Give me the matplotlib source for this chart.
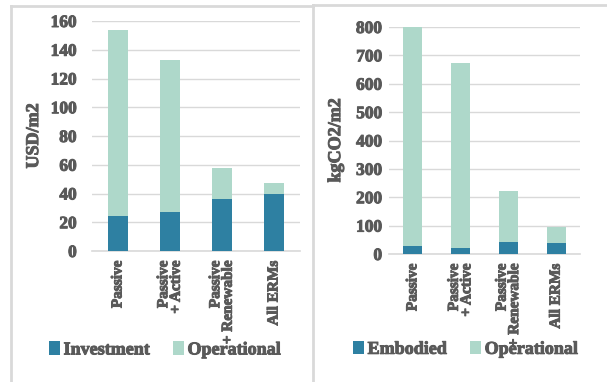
import matplotlib
matplotlib.use("Agg")
import matplotlib.pyplot as plt
import matplotlib.patheffects as pe
from matplotlib.lines import Line2D
import numpy as np

# categories (x labels)
categories = ["Passive", "Passive\n+ Active", "Passive\n+ Renewable", "All ERMs"]

# left chart: cost (USD/m2)
investment = [24.5, 27, 36.5, 39.5]
operational_cost = [129.5, 106, 21, 7.5]

# right chart: carbon (kgCO2/m2)
embodied = [27, 20, 42, 38]
operational_co2 = [773, 652, 180, 57]

dark = "#2E80A2"
light = "#AED8CA"
txt = "#595959"
grid = "#D9D9D9"

plt.rcParams["font.family"] = "Liberation Serif"
plt.rcParams["font.weight"] = "bold"

fig = plt.figure(figsize=(6.07, 3.82), dpi=100)

# panel borders
for xs, ys in [([11 / 607, 11 / 607], [0, 1 - 6 / 382]),
               ([11 / 607, 313 / 607], [1 - 6 / 382, 1 - 6 / 382]),
               ([313 / 607, 313 / 607], [0, 1 - 5 / 382]),
               ([313 / 607, 1], [1 - 5 / 382, 1 - 5 / 382])]:
    fig.add_artist(Line2D(xs, ys, color="#D9D9D9", lw=2))

heavy = [pe.withStroke(linewidth=0.7, foreground=txt)]


def panel(rect, bottom_vals, top_vals, ymax, ystep, ylabel, names, ypad,
          label_x, leg_x, leg_y):
    ax = fig.add_axes(rect)
    x = np.arange(len(categories))
    ax.bar(x, bottom_vals, width=0.4, color=dark, label=names[0], zorder=3)
    ax.bar(x, top_vals, width=0.4, bottom=bottom_vals, color=light,
           label=names[1], zorder=3)
    ax.set_xlim(-0.5, 3.5)
    ax.set_ylim(0, ymax)
    ax.set_yticks(np.arange(0, ymax + 1, ystep))
    ax.yaxis.grid(True, color=grid, lw=1, zorder=0)
    for s in ["top", "right", "left"]:
        ax.spines[s].set_visible(False)
    ax.spines["bottom"].set_color(grid)
    ax.spines["bottom"].set_linewidth(1.2)
    ax.tick_params(length=0, colors=txt)
    ax.tick_params(axis="y", labelsize=12.5, pad=ypad)
    ax.tick_params(axis="x", pad=7)
    ax.set_xticks(x)
    ax.set_xticklabels(categories, rotation=90, ha="center", va="top",
                       fontsize=11, fontweight="bold", color=txt,
                       multialignment="right", linespacing=0.95)
    ax.set_ylabel(ylabel, fontsize=13, fontweight="bold", color=txt)
    ax.yaxis.set_label_coords(label_x, 0.5)
    leg = ax.legend(loc="center", bbox_to_anchor=(leg_x, leg_y), ncol=2,
                    frameon=False, handlelength=0.6, handleheight=0.75,
                    handletextpad=0.2, columnspacing=1.3,
                    prop={"weight": "bold", "size": 13})
    texts = (list(leg.get_texts()) + ax.get_xticklabels()
             + ax.get_yticklabels() + [ax.yaxis.label])
    for t in texts:
        t.set_color(txt)
        t.set_fontweight("bold")
        t.set_path_effects(heavy)
    return ax


panel([92 / 607, 1 - 251 / 382, 208 / 607, 230 / 382], investment,
      operational_cost, 160, 20, "USD/m2", ["Investment", "Operational"],
      11, -0.24, 0.35, -0.43)
panel([389 / 607, 1 - 254 / 382, 191 / 607, 227 / 382], embodied,
      operational_co2, 800, 100, "kgCO2/m2", ["Embodied", "Operational"],
      5, -0.235, 0.40, -0.42)

fig.savefig("out.png", dpi=100)
